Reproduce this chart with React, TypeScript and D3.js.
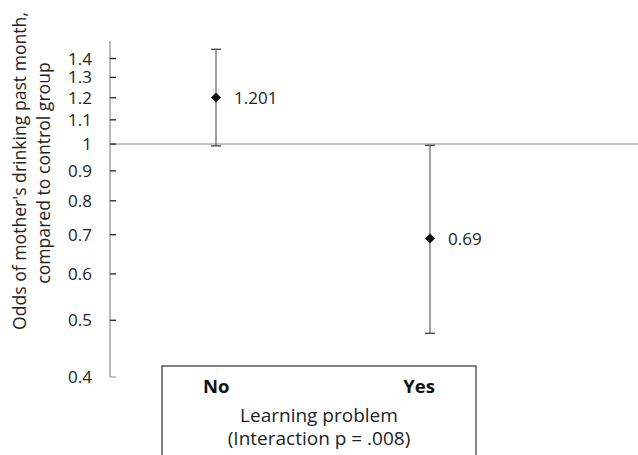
import React from "react";
import * as d3 from "d3";

const categories = ["No", "Yes"];
const oddsRatios = [1.201, 0.69];
const ciLower = [0.993, 0.995];
const ciUpper = [1.452, 0.475];
const pointLabels = ["1.201", "0.69"];
const yTicks = [0.4, 0.5, 0.6, 0.7, 0.8, 0.9, 1, 1.1, 1.2, 1.3, 1.4];
const yTitleLines = ["Odds of mother's drinking past month,", "compared to control group"];
const xTitleLines = ["Learning problem", "(Interaction p = .008)"];

const W = 638;
const H = 455;
const FONT = "'Open Sans', 'DejaVu Sans', sans-serif";

export default function App() {
  const y = d3.scaleLog().domain([0.4, 1.5]).range([377, 41]);
  const x = d3.scalePoint<string>().domain(categories).range([216, 430]);
  const axisX = 110;
  const boxL = 162;
  const boxR = 476;
  const boxT = 366;

  const lows = categories.map((_, i) => Math.min(ciLower[i], ciUpper[i]));
  const highs = categories.map((_, i) => Math.max(ciLower[i], ciUpper[i]));
  const diamond = d3.symbol().type(d3.symbolDiamond2).size(64)();

  return (
    <svg
      width={W}
      height={H}
      style={{ position: "absolute", left: 0, top: 0, background: "#fff" }}
      fontFamily={FONT}
    >
      <rect x={0} y={0} width={W} height={H} fill="#fff" />
      {/* reference line at 1 */}
      <line x1={axisX} x2={W} y1={y(1)} y2={y(1)} stroke="#c6c6c6" strokeWidth={2} />
      {/* y axis */}
      <line x1={axisX} x2={axisX} y1={y(1.5)} y2={y(0.4)} stroke="#a6a6a6" strokeWidth={1.5} />
      {yTicks.map((t) => (
        <g key={t}>
          <line
            x1={axisX}
            x2={axisX + 6}
            y1={y(t)}
            y2={y(t)}
            stroke={t === 0.4 ? "#a6a6a6" : "#222"}
            strokeWidth={1.3}
          />
          <text
            x={92}
            y={y(t)}
            dy="0.36em"
            textAnchor="end"
            fontSize={17}
            fill="#222"
          >
            {String(t)}
          </text>
        </g>
      ))}
      {/* y title */}
      {yTitleLines.map((line, i) => (
        <text
          key={i}
          transform={`translate(${26 + i * 24},${171 + i * 2}) rotate(-90)`}
          textAnchor="middle"
          fontSize={17.6}
          fill="#222"
        >
          {line}
        </text>
      ))}
      {/* error bars and points */}
      {categories.map((c, i) => {
        const cx = x(c)!;
        return (
          <g key={c}>
            <line x1={cx} x2={cx} y1={y(lows[i])} y2={y(highs[i])} stroke="#6e6e6e" strokeWidth={1.3} />
            <line x1={cx - 5} x2={cx + 5} y1={y(lows[i])} y2={y(lows[i])} stroke="#444" strokeWidth={1.3} />
            <line x1={cx - 5} x2={cx + 5} y1={y(highs[i])} y2={y(highs[i])} stroke="#444" strokeWidth={1.3} />
            <path d={diamond!} transform={`translate(${cx},${y(oddsRatios[i])})`} fill="#111" />
            <text
              x={cx + 18}
              y={y(oddsRatios[i])}
              dy="0.36em"
              fontSize={17}
              fill="#222"
            >
              {pointLabels[i]}
            </text>
          </g>
        );
      })}
      {/* category box */}
      <rect x={boxL} y={boxT} width={boxR - boxL} height={H - boxT + 10} fill="#fff" stroke="#333" strokeWidth={1.2} />
      <text x={boxL + 41} y={393} fontSize={18.5} fontWeight="bold" fill="#111">
        {categories[0]}
      </text>
      <text x={boxR - 41} y={393} fontSize={18.5} fontWeight="bold" fill="#111" textAnchor="end">
        {categories[1]}
      </text>
      {xTitleLines.map((line, i) => (
        <text
          key={i}
          x={(boxL + boxR) / 2}
          y={422 + i * 23}
          textAnchor="middle"
          fontSize={19}
          fill="#222"
        >
          {line}
        </text>
      ))}
    </svg>
  );
}
